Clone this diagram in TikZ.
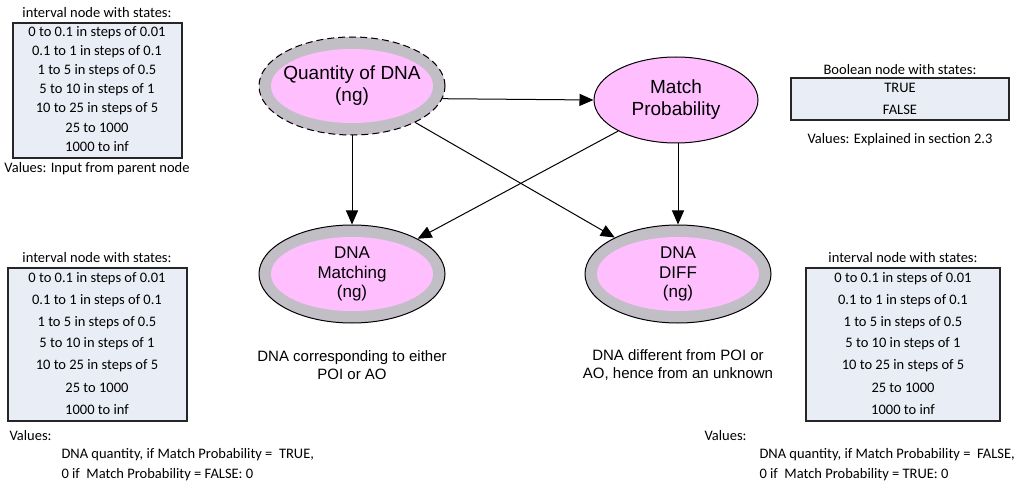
\documentclass[tikz,border=0pt]{standalone}
\usepackage{fontspec}
\setmainfont{Carlito}
\newfontfamily\arialfont{Liberation Sans}
\usetikzlibrary{shapes.geometric,arrows.meta}

\definecolor{statefill}{RGB}{233,237,245}
\definecolor{nodepink}{RGB}{255,191,255}
\definecolor{ringgray}{RGB}{194,190,198}

\tikzset{
  statebox/.style={draw=black!85,line width=1.2pt,fill=statefill},
  boxtext/.style={font=\fontsize{14.5}{16}\selectfont},
  outernode/.style={ellipse,draw,line width=1pt,fill=ringgray,minimum width=186pt,minimum height=98pt},
  innernode/.style={ellipse,fill=nodepink,inner sep=0pt,minimum width=162pt,minimum height=74pt},
  nodetext/.style={align=center,inner sep=0pt,font=\arialfont\fontsize{17}{19.5}\selectfont},
  caption/.style={align=center,font=\arialfont\fontsize{15}{18.5}\selectfont},
  link/.style={line width=1pt,-{Triangle[length=14pt,width=12pt]}},
}

\def\dnastates{0 to 0.1 in steps of 0.01, 0.1 to 1 in steps of 0.1, 1 to 5 in steps of 0.5, 5 to 10 in steps of 1, 10 to 25 in steps of 5, 25 to 1000, 1000 to inf}

\begin{document}
\begin{tikzpicture}[x=1pt,y=-1pt]
\useasboundingbox (0,0) rectangle (1017,489);

% quantity states (top left)
\node[boxtext] (qtytitle) at (97,13) {interval node with states:};
\node[statebox,minimum width=169pt,minimum height=135pt] (qtybox) at (97.5,90.5) {};
\foreach \s [count=\i from 0] in \dnastates
  \node[boxtext] (qtys\i) at (97,33+19*\i) {\s};
\node[boxtext] (qtyval) at (97,169) {Values: Input from parent node};

% match probability states (top right)
\node[boxtext] (mptitle) at (900,70) {Boolean node with states:};
\node[statebox,minimum width=218pt,minimum height=42pt] (mpbox) at (900,99) {};
\node[boxtext] (mptrue) at (900,88) {TRUE};
\node[boxtext] (mpfalse) at (900,110) {FALSE};
\node[boxtext] (mpval) at (900,140) {Values: Explained in section 2.3};

% matching states (bottom left)
\node[boxtext] (mtitle) at (97,258) {interval node with states:};
\node[statebox,minimum width=179pt,minimum height=153pt] (mbox) at (97.5,344.5) {};
\foreach \s [count=\i from 0] in \dnastates
  \node[boxtext] (ms\i) at (97,279+21.7*\i) {\s};
\node[boxtext,anchor=west] (mval) at (6,436) {Values:};
\node[boxtext,anchor=west] (mval1) at (58,455) {DNA quantity, if Match Probability =~ TRUE,};
\node[boxtext,anchor=west] (mval2) at (58,475) {0 if~ Match Probability = FALSE: 0};

% diff states (bottom right)
\node[boxtext] (dtitle) at (903,258) {interval node with states:};
\node[statebox,minimum width=194pt,minimum height=153pt] (dbox) at (903,344.5) {};
\foreach \s [count=\i from 0] in \dnastates
  \node[boxtext] (ds\i) at (903,279+21.7*\i) {\s};
\node[boxtext,anchor=west] (dval) at (701,436) {Values:};
\node[boxtext,anchor=west] (dval1) at (756,455) {DNA quantity, if Match Probability =~ FALSE,};
\node[boxtext,anchor=west] (dval2) at (756,475) {0 if~ Match Probability = TRUE: 0};

% network nodes
\node[outernode,draw=black,dash pattern=on 7pt off 4pt,preaction={draw=nodepink,line width=1pt}] (qty) at (352,86) {};
\node[innernode] (qtyin) at (qty) {};
\node[nodetext,font=\arialfont\fontsize{19}{22}\selectfont] (qtytext) at (qty) {Quantity of DNA\\(ng)};
\node[ellipse,draw,line width=1pt,fill=nodepink,minimum width=164pt,minimum height=86pt,align=center,font=\arialfont\fontsize{19}{22}\selectfont] (match) at (676,100) {Match\\Probability};
\node[outernode] (matching) at (352,274) {};
\node[innernode] (matchingin) at (matching) {};
\node[nodetext] (matchingtext) at (matching) {DNA\\Matching\\(ng)};
\node[outernode] (diff) at (678,274) {};
\node[innernode] (diffin) at (diff) {};
\node[nodetext] (difftext) at (diff) {DNA\\DIFF\\(ng)};

\node[caption] (matchingcap) at (352,365) {DNA corresponding to either\\POI or AO};
\node[caption] (diffcap) at (678,365) {DNA different from POI or\\AO, hence from an unknown};

% links
\draw[link] (qty.-8) -- (match.west);
\draw[link] (qty) -- (matching);
\draw[link] (qty) -- (diff);
\draw[link] (match) -- (matching);
\draw[link] (match.south -| diff) -- (diff);
\end{tikzpicture}
\end{document}
